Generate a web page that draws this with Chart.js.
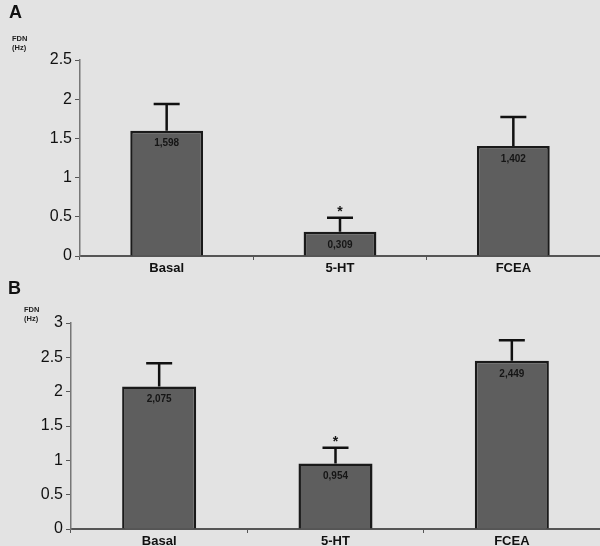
<!DOCTYPE html>
<html>
<head>
<meta charset="utf-8">
<script src="https://cdn.jsdelivr.net/npm/chart.js@4"></script>
<style>
  body { margin: 0; background: #e3e3e3; font-family: 'Liberation Sans', Arial, sans-serif; }
  #wrap { position: relative; width: 600px; height: 546px; overflow: hidden; }
  .panel { position: absolute; left: 0; width: 600px; }
  .tag { position: absolute; font-weight: bold; color: #111; }
  .unit { position: absolute; font-size: 7.5px; font-weight: bold; color: #222; line-height: 9px; }
</style>
</head>
<body>
<div id="wrap">
  <div class="panel" style="top:0;height:280px"><canvas id="chart-a" width="600" height="280"></canvas></div>
  <div class="panel" style="top:280px;height:266px"><canvas id="chart-b" width="600" height="266"></canvas></div>
  <div class="tag" style="left:9px;top:2px;font-size:18px">A</div>
  <div class="unit" style="left:12px;top:34px">FDN<br>(Hz)</div>
  <div class="tag" style="left:8px;top:278px;font-size:18px">B</div>
  <div class="unit" style="left:24px;top:305px">FDN<br>(Hz)</div>
</div>
<script>
const categories = ['Basal', '5-HT', 'FCEA'];
// Panel A
const valuesA = [1.598, 0.309, 1.402];
const errorsA = [0.34, 0.18, 0.37];
const labelsA = ['1,598', '0,309', '1,402'];
const starsA = ['', '*', ''];
// Panel B
const valuesB = [2.075, 0.954, 2.449];
const errorsB = [0.34, 0.23, 0.30];
const labelsB = ['2,075', '0,954', '2,449'];
const starsB = ['', '*', ''];

// error bars, value labels and asterisks
const extras = {
  id: 'extras',
  afterDatasetsDraw(chart, args, opts) {
    const ctx = chart.ctx;
    const y = chart.scales.y;
    const meta = chart.getDatasetMeta(0);
    ctx.save();
    meta.data.forEach((bar, i) => {
      const v = chart.data.datasets[0].data[i];
      const top = y.getPixelForValue(v + opts.errors[i]);
      ctx.strokeStyle = '#111';
      ctx.lineWidth = 2.5;
      ctx.beginPath();
      ctx.moveTo(bar.x, bar.y);
      ctx.lineTo(bar.x, top);
      ctx.moveTo(bar.x - 13, top);
      ctx.lineTo(bar.x + 13, top);
      ctx.stroke();
      ctx.fillStyle = '#151515';
      ctx.font = 'bold 10px "Liberation Sans", Arial, sans-serif';
      ctx.textAlign = 'center';
      ctx.textBaseline = 'middle';
      ctx.fillText(opts.labels[i], bar.x, bar.y + 13);
      if (opts.stars[i]) {
        ctx.font = 'bold 14px "Liberation Sans", Arial, sans-serif';
        ctx.fillText(opts.stars[i], bar.x, top - 6);
      }
    });
    ctx.restore();
  }
};

function makeChart(id, values, errors, labels, stars, max, yWidth, xHeight, pad) {
  return new Chart(document.getElementById(id), {
    type: 'bar',
    data: {
      labels: categories,
      datasets: [{
        data: values,
        backgroundColor: '#5e5e5e',
        borderColor: '#1a1a1a',
        borderWidth: 2.5,
        categoryPercentage: 1,
        barPercentage: 0.42,
      }],
    },
    options: {
      responsive: false,
      animation: false,
      layout: { padding: pad },
      plugins: {
        legend: { display: false },
        tooltip: { enabled: false },
        extras: { errors: errors, labels: labels, stars: stars },
      },
      scales: {
        x: {
          grid: { offset: true, drawOnChartArea: false, tickLength: 4, color: '#555' },
          border: { color: '#555', width: 2 },
          ticks: { color: '#111', font: { family: '"Liberation Sans", Arial, sans-serif', size: 13, weight: 'bold' }, padding: 1 },
          afterFit: (s) => { s.height = xHeight; },
        },
        y: {
          min: 0,
          max: max,
          grid: { drawOnChartArea: false, tickLength: 5, color: '#555' },
          border: { color: '#777', width: 1.5 },
          ticks: {
            stepSize: 0.5,
            color: '#111',
            padding: 3,
            font: { family: '"Liberation Sans", Arial, sans-serif', size: 16 },
            callback: (v) => String(v),
          },
          afterFit: (s) => { s.width = yWidth; },
        },
      },
    },
    plugins: [extras],
  });
}

makeChart('chart-a', valuesA, errorsA, labelsA, starsA, 2.5, 80, 20, { top: 60, bottom: 4, left: 0, right: 0 });
makeChart('chart-b', valuesB, errorsB, labelsB, starsB, 3, 71, 17, { top: 43, bottom: 0, left: 0, right: 0 });
</script>
</body>
</html>
